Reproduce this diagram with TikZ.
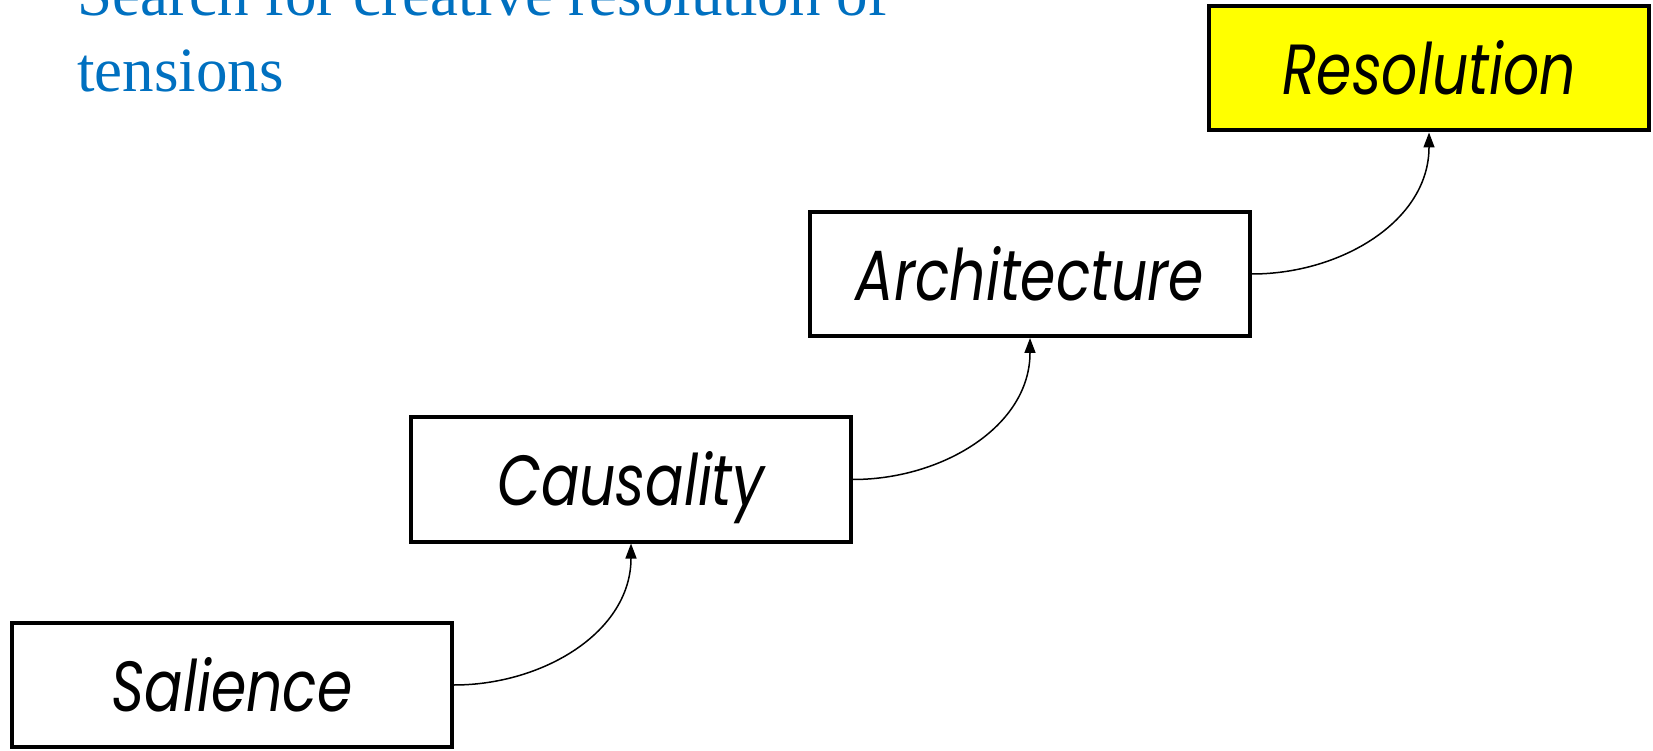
\documentclass[tikz,border=0pt]{standalone}
\usepackage{fontspec}
\setmainfont{Liberation Serif}
\newfontfamily\stepfont[FakeStretch=0.80]{Poppins}
\usetikzlibrary{positioning,arrows.meta}
\definecolor{titleblue}{RGB}{0,112,192}
\definecolor{resyellow}{RGB}{255,255,0}

\begin{document}
\begin{tikzpicture}[
    x=1pt, y=1pt,
    node distance=77.5pt and -45pt,
    stage/.style={rectangle, draw, line width=4pt, minimum width=440pt, minimum height=124pt,
        inner sep=0pt, text height=53pt, text depth=0pt, text centered,
        font=\stepfont\itshape\fontsize{71}{75}\selectfont},
    goal/.style={stage, fill=resyellow},
    title/.style={text=titleblue, align=left, inner sep=0pt, font=\fontsize{63}{76}\selectfont},
    climb/.style={line width=1.5pt, -{Triangle[length=15pt,width=11pt]}, out=0, in=-90}
]
    \useasboundingbox (0,0) rectangle (1653,750);

    % Title
    \node[title, anchor=south west] (head) at (77,658) {Search for creative resolution of\\tensions};

    % Stages
    \node[stage] (salience) at (232,65) {Salience};
    \node[stage, above right=of salience] (causality) {Causality};
    \node[stage, above right=of causality] (architecture) {Architecture};
    \node[goal, above right=of architecture] (resolution) {Resolution};

    % Connections
    \draw[climb] (salience.east) to (causality.south);
    \draw[climb] (causality.east) to (architecture.south);
    \draw[climb] (architecture.east) to (resolution.south);
\end{tikzpicture}
\end{document}
